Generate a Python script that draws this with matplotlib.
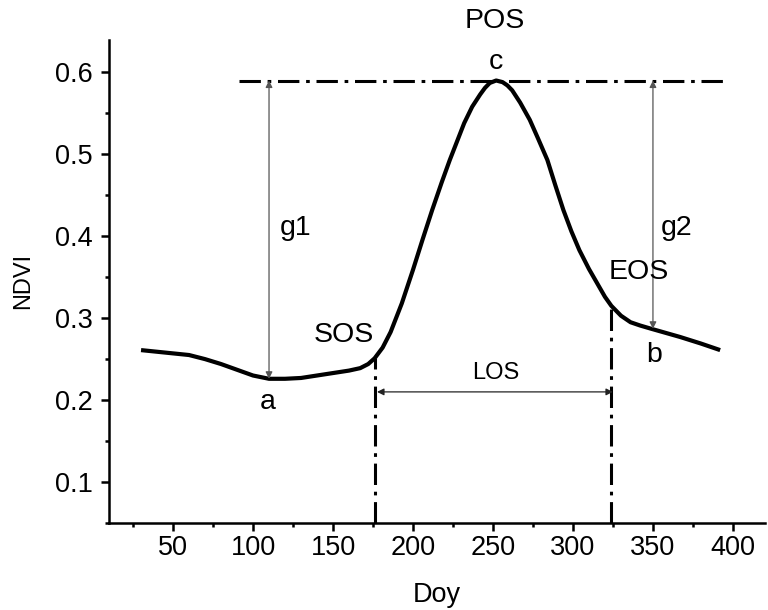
import matplotlib.pyplot as plt
from matplotlib.ticker import MultipleLocator

plt.rcParams['font.family'] = ['Liberation Sans', 'DejaVu Sans']

# NDVI seasonal curve (day of year, NDVI)
doy = [30, 40, 50, 60, 70, 80, 90, 100, 110, 120, 130, 140, 150, 160, 167,
       172, 176, 181, 186, 193, 200, 206, 212, 218, 223, 228, 232, 237, 242,
       245, 248, 252, 256, 259, 262, 267, 273, 278, 284, 289, 294, 299, 304,
       310, 315, 320, 324, 330, 336, 342, 349, 358, 367, 380, 392]
ndvi = [0.261, 0.259, 0.257, 0.255, 0.250, 0.244, 0.237, 0.230, 0.226, 0.226,
        0.227, 0.230, 0.233, 0.236, 0.239, 0.244, 0.251, 0.264, 0.283, 0.318,
        0.359, 0.396, 0.432, 0.466, 0.493, 0.518, 0.538, 0.558, 0.573, 0.581,
        0.587, 0.590, 0.588, 0.584, 0.578, 0.563, 0.542, 0.520, 0.493, 0.462,
        0.432, 0.406, 0.383, 0.360, 0.343, 0.326, 0.315, 0.303, 0.295, 0.291,
        0.287, 0.282, 0.277, 0.269, 0.261]

# phenology markers
sos_day, sos_val = 176, 0.251
eos_day, eos_val = 324, 0.315
pos_day, pos_val = 252, 0.590
min_day, min_val = 110, 0.226
end_day, end_val = 350, 0.287
los_level = 0.21

fig = plt.figure(figsize=(7.68, 6.10), dpi=100)
ax = fig.add_axes([0.142, 0.1426, 0.854, 0.7926])

ax.plot(doy, ndvi, color='black', lw=3.0, solid_capstyle='butt',
        solid_joinstyle='round', zorder=3)

dashdot = (0, (7, 2.2, 1.2, 2.2))
ax.plot([91, 396], [pos_val, pos_val], color='black', lw=2.2, linestyle=dashdot)
ax.plot([sos_day, sos_day], [0.05, sos_val], color='black', lw=2.2, linestyle=dashdot)
ax.plot([eos_day, eos_day], [0.05, eos_val], color='black', lw=2.2, linestyle=dashdot)

arrow_grey = dict(arrowstyle='<|-|>', color='#555555', lw=0.9,
                  mutation_scale=10, shrinkA=0, shrinkB=0)
ax.annotate('', xy=(min_day, pos_val), xytext=(min_day, min_val), arrowprops=arrow_grey)
ax.annotate('', xy=(end_day, pos_val), xytext=(end_day, end_val), arrowprops=arrow_grey)
arrow_los = dict(arrowstyle='<|-|>', color='#222222', lw=0.9,
                 mutation_scale=10, shrinkA=0, shrinkB=0)
ax.annotate('', xy=(sos_day + 1.5, los_level), xytext=(eos_day + 1, los_level),
            arrowprops=arrow_los)

fs = 20.5
ax.text(251, 0.662, 'POS', fontsize=fs, ha='center', va='center', clip_on=False)
ax.text(pos_day, 0.612, 'c', fontsize=fs, ha='center', va='center')
ax.text(117, 0.41, 'g1', fontsize=fs, ha='left', va='center')
ax.text(355, 0.41, 'g2', fontsize=fs, ha='left', va='center')
ax.text(322, 0.356, 'EOS', fontsize=fs, ha='left', va='center')
ax.text(157, 0.280, 'SOS', fontsize=fs, ha='center', va='center')
ax.text(351, 0.255, 'b', fontsize=fs, ha='center', va='center')
ax.text(109, 0.198, 'a', fontsize=fs, ha='center', va='center')
ax.text(252, 0.233, 'LOS', fontsize=17, ha='center', va='center')

ax.set_xlim(10, 420)
ax.set_ylim(0.05, 0.64)
ax.xaxis.set_minor_locator(MultipleLocator(25))
ax.yaxis.set_minor_locator(MultipleLocator(0.05))
ax.set_xticks([50, 100, 150, 200, 250, 300, 350, 400])
ax.set_yticks([0.1, 0.2, 0.3, 0.4, 0.5, 0.6])

for side in ['top', 'right']:
    ax.spines[side].set_visible(False)
for side in ['left', 'bottom']:
    ax.spines[side].set_linewidth(1.8)

ax.tick_params(which='major', direction='out', length=5.5, width=1.8,
               labelsize=19.5)
ax.tick_params(axis='x', which='major', pad=3)
ax.tick_params(axis='y', which='major', pad=6)
ax.tick_params(which='minor', direction='out', length=3, width=1.8)

ax.set_xlabel('Doy', fontsize=19.5, labelpad=15)
ax.set_ylabel('NDVI', fontsize=17, labelpad=15)

fig.savefig('out.png', dpi=100)
